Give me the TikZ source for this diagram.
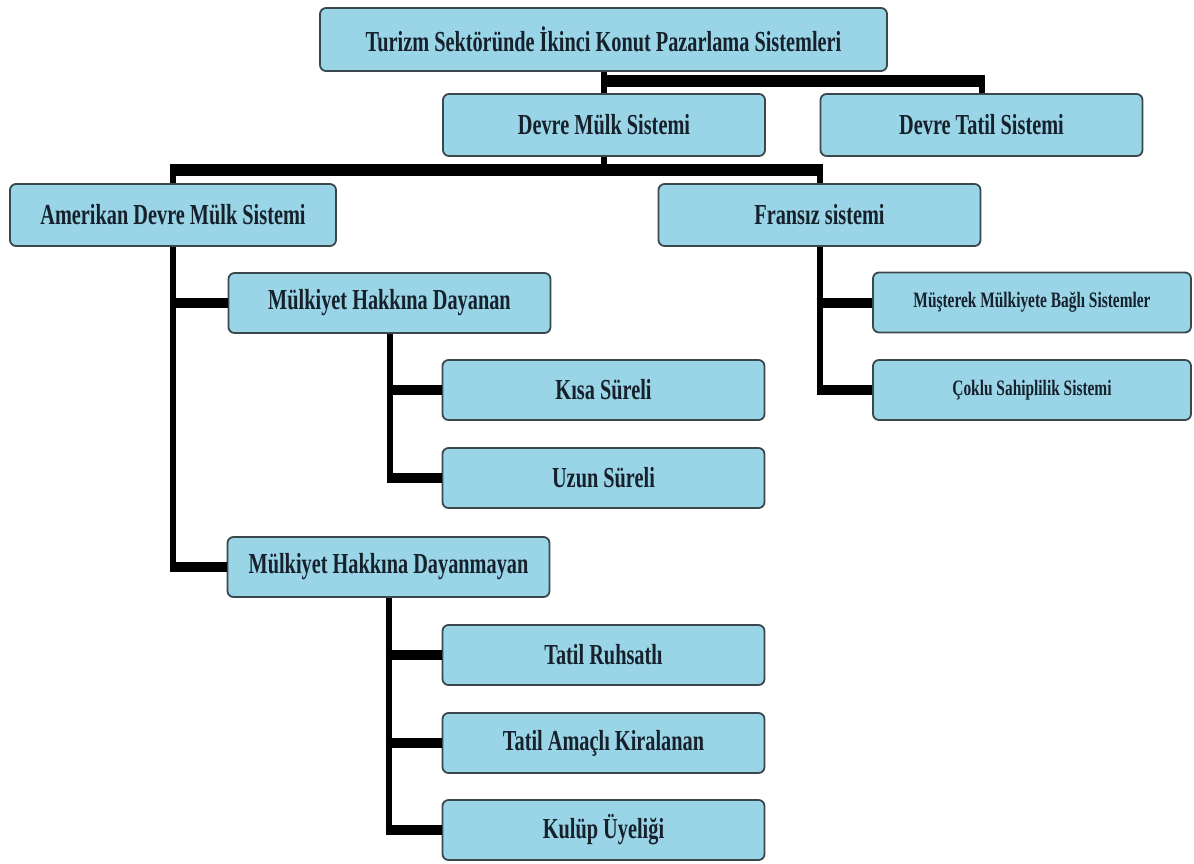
\documentclass[tikz,border=0pt]{standalone}
\usepackage{fontspec}
\newfontfamily\boxfont{Liberation Serif}[FakeStretch=0.70]
\definecolor{bFill}{HTML}{99D5E7}
\definecolor{bLine}{HTML}{3A474C}
\definecolor{bText}{HTML}{16212C}
\begin{document}
\begin{tikzpicture}[x=1pt, y=-1pt,
    bx/.style={draw=bLine, fill=bFill, rounded corners=6pt, line width=1.8pt,
      minimum width=322pt, minimum height=60pt, inner sep=0pt, text=bText,
      font=\boxfont\bfseries\fontsize{29}{32}\selectfont},
    smallbx/.style={bx, minimum width=318pt, font=\boxfont\bfseries\fontsize{22}{26}\selectfont},
    trunk/.style={line width=6pt},
    bus/.style={line width=12pt, shorten <=-3pt, shorten >=-3pt},
    branch/.style={line width=10pt, shorten <=-3pt}]
  \useasboundingbox (0,0) rectangle (1194,863);
  \node[bx, minimum width=567pt, minimum height=63pt] (root) at (603.5,39.5)
    {Turizm Sektöründe İkinci Konut Pazarlama Sistemleri};
  \node[bx, minimum height=62pt] (dms) at (604,125) {Devre Mülk Sistemi};
  \node[bx, minimum height=62pt] (dts) at (981.5,125) {Devre Tatil Sistemi};
  \node[bx, minimum width=326pt, minimum height=62pt] (ams) at (173,215) {Amerikan Devre Mülk Sistemi};
  \node[bx, minimum height=62pt] (frs) at (819.5,215) {Fransız sistemi};
  \node[bx] (mhd) at (389.5,303) {Mülkiyet Hakkına Dayanan};
  \node[smallbx] (msb) at (1032,302.5) {Müşterek Mülkiyete Bağlı Sistemler};
  \node[smallbx] (cks) at (1032,390) {Çoklu Sahiplilik Sistemi};
  \node[bx] (kisa) at (603.5,390) {Kısa Süreli};
  \node[bx] (uzun) at (603.5,478) {Uzun Süreli};
  \node[bx] (mhdm) at (388.5,567) {Mülkiyet Hakkına Dayanmayan};
  \node[bx] (truh) at (603.5,655) {Tatil Ruhsatlı};
  \node[bx] (tak) at (603.5,743) {Tatil Amaçlı Kiralanan};
  \node[bx] (kul) at (603.5,830) {Kulüp Üyeliği};

  \coordinate (b1) at (0,81);
  \coordinate (b2) at (0,170);
  \draw[trunk] (dms.north) -- (dms.north |- root.south);
  \draw[bus] (dms.north |- b1) -- (dts.north |- b1);
  \draw[trunk] (dts.north) -- (dts.north |- b1);
  \draw[trunk] (dms.south) -- (dms.south |- b2);
  \draw[bus] (ams.north |- b2) -- (frs.north |- b2);
  \draw[trunk] (ams.north) -- (ams.north |- b2);
  \draw[trunk] (frs.north) -- (frs.north |- b2);

  \draw[trunk] (ams.south) -- ([yshift=-5pt]ams.south |- mhdm.west);
  \foreach \c in {mhd, mhdm}
    \draw[branch] (ams.south |- \c.west) -- (\c.west);
  \draw[trunk] (mhd.south) -- ([yshift=-5pt]mhd.south |- uzun.west);
  \foreach \c in {kisa, uzun}
    \draw[branch] (mhd.south |- \c.west) -- (\c.west);
  \draw[trunk] (mhdm.south) -- ([yshift=-5pt]mhdm.south |- kul.west);
  \foreach \c in {truh, tak, kul}
    \draw[branch] (mhdm.south |- \c.west) -- (\c.west);
  \draw[trunk] (frs.south) -- ([yshift=-5pt]frs.south |- cks.west);
  \foreach \c in {msb, cks}
    \draw[branch] (frs.south |- \c.west) -- (\c.west);
\end{tikzpicture}
\end{document}
